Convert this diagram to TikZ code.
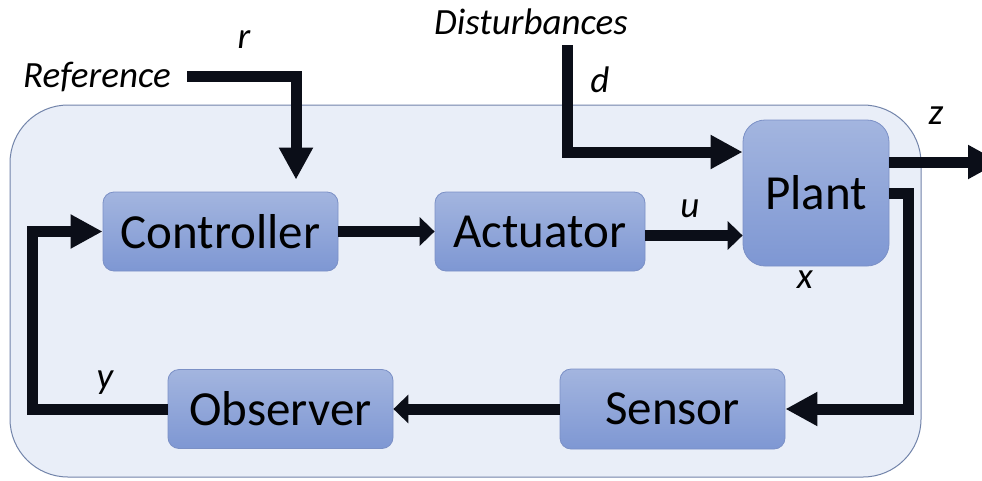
\documentclass[tikz,border=0pt]{standalone}
\usepackage{fontspec}
\setmainfont{Carlito}
\usetikzlibrary{arrows.meta,calc}
\definecolor{panelfill}{HTML}{E9EEF8}
\definecolor{paneldraw}{HTML}{7284AA}
\definecolor{boxtop}{HTML}{A3B5DF}
\definecolor{boxbot}{HTML}{7E97D3}
\definecolor{boxdraw}{HTML}{7B90C6}
\definecolor{ink}{HTML}{0B0E18}
\tikzset{
  blk/.style={rectangle, rounded corners=11pt, draw=boxdraw, line width=0.8pt,
    top color=boxtop, bottom color=boxbot, inner sep=0pt,
    font=\fontsize{49}{58}\selectfont, text=black},
  lbl/.style={font=\fontsize{37}{44}\selectfont\itshape, text=black, inner sep=0pt},
  flow/.style={draw=ink, line width=11pt, line join=miter},
  bigtip/.style={flow, -{Triangle[length=32pt,width=32pt]}},
  smalltip/.style={flow, -{Triangle[length=15pt,width=28pt]}},
}
\begin{document}
\begin{tikzpicture}[x=1pt,y=-1pt]
\useasboundingbox (0,0) rectangle (982,480);
\clip (0,0) rectangle (982,480);
\fill[white] (0,0) rectangle (982,480);
% panel
\draw[fill=panelfill, draw=paneldraw, line width=1pt, rounded corners=58pt] (10,105) rectangle (921,477);
% blocks
\node[blk, minimum width=235pt, minimum height=79pt] (controller) at (220.5,231.5) {Controller};
\node[blk, minimum width=210pt, minimum height=79pt] (actuator) at (540,231.5) {Actuator};
\node[blk, minimum width=146pt, minimum height=146pt, rounded corners=22pt] (plant) at (816,193) {Plant};
\node[blk, minimum width=225pt, minimum height=79pt] (observer) at (280.5,409) {Observer};
\node[blk, minimum width=225pt, minimum height=80pt] (sensor) at (672.5,409) {Sensor};
% free ends
\coordinate (refstart) at (187,76);
\coordinate (refcorner) at (296,76);
\coordinate (dstart) at (567,45);
\coordinate (zend) at (1000,162);
\coordinate (xcorner) at (908,193);
\coordinate (ycorner) at (32,409);
% connectors
\draw[bigtip, shorten >=12pt] (refstart) -- (refcorner) -- (refcorner |- controller.north);
\draw[bigtip] (dstart) |- ($(plant.west)+(0,-41)$);
\draw[smalltip] (controller) -- (actuator);
\draw[smalltip] ($(actuator.east)+(0,4)$) -- ($(plant.west |- actuator.east)+(0,4)$);
\draw[bigtip] ($(plant.east)+(0,-31)$) -- (zend);
\draw[bigtip] (plant.east) -- (xcorner) |- (sensor.east);
\draw[smalltip] (sensor.west) -- (observer.east);
\draw[bigtip] (observer.west) -- (ycorner) |- (controller.west);
% labels
\node[lbl] (tref) at (97,77) {Reference};
\node[lbl] (tdist) at (531,22) {Disturbances};
\node[lbl] (tr) at (244,40) {r};
\node[lbl] (td) at (600,80) {d};
\node[lbl] (tu) at (690,209) {u};
\node[lbl] (tz) at (936,116) {z};
\node[lbl] (tx) at (805,280) {x};
\node[lbl] (ty) at (105,383) {y};
\end{tikzpicture}
\end{document}
